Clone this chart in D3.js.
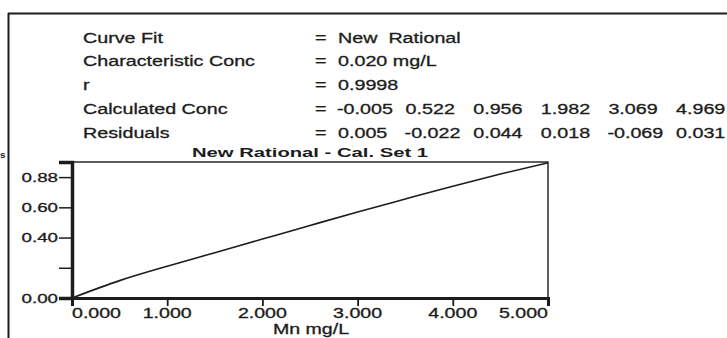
<!DOCTYPE html>
<html>
<head>
<meta charset="utf-8">
<script src="https://cdn.jsdelivr.net/npm/d3@7"></script>
<style>
  body { margin: 0; background: #fff; }
  svg { display: block; font-family: "Liberation Sans", Arial, sans-serif; }
</style>
</head>
<body>
<div id="chart"></div>
<script>
// header block
var headerLabels = ["Curve Fit", "Characteristic Conc", "r", "Calculated Conc", "Residuals"];
var headerText = ["New  Rational", "0.020 mg/L", "0.9998"];
var calcConc = [-0.005, 0.522, 0.956, 1.982, 3.069, 4.969];
var residuals = [0.005, -0.022, 0.044, 0.018, -0.069, 0.031];

// fitted curve
var curveConc = [0, 0.5, 1, 1.5, 2, 2.5, 3, 3.5, 4, 4.5, 5];
var curveAbs = [0, 0.115, 0.21, 0.30, 0.39, 0.48, 0.569, 0.655, 0.74, 0.82, 0.895];

var xTicks = [0, 1, 2, 3, 4, 5];
var yTicks = [0, 0.2, 0.4, 0.6, 0.8];
var yTickLabels = ["0.00", "", "0.40", "0.60", "0.88"];

var title = "New Rational - Cal. Set 1";
var xTitle = "Mn mg/L";

var width = 727, height = 338;
var ink = "#1c1c1c";

// plain hyphen for negatives, like the printout
var fmt = d3.formatLocale({decimal: ".", thousands: ",", grouping: [3], currency: ["", ""], minus: "-"}).format(".3f");

var svg = d3.select("#chart").append("svg")
    .attr("width", width)
    .attr("height", height);

// scanned text is stretched sideways, so every label gets a scaleX
function label(g, x, y, txt, size, sx, anchor, weight) {
  return g.append("text")
      .attr("transform", "translate(" + x + "," + y + ") scale(" + sx + ",1)")
      .attr("text-anchor", anchor || "start")
      .attr("font-size", size)
      .attr("font-weight", weight || "normal")
      .attr("fill", ink)
      .attr("stroke", ink)
      .attr("stroke-width", weight ? 0 : 0.3)
      .style("white-space", "pre")
      .text(txt);
}

// page frame
svg.append("line").attr("x1", 8).attr("x2", width).attr("y1", 13.5).attr("y2", 13.5)
    .attr("stroke", ink).attr("stroke-width", 2);
svg.append("line").attr("x1", 8.5).attr("x2", 8.5).attr("y1", 13).attr("y2", height)
    .attr("stroke", ink).attr("stroke-width", 2);

// header rows
var rowY = d3.scaleLinear().domain([0, 4]).range([42.5, 137.5]);
var colX = d3.scaleLinear().domain([0, 5]).range([338, 676]);
var head = svg.append("g");

headerLabels.forEach(function(t, i) {
  label(head, 83, rowY(i), t, 14.5, 1.36);
  label(head, 315, rowY(i), "=", 14.5, 1.36);
});
headerText.forEach(function(t, i) {
  label(head, 338, rowY(i), t, 14.5, 1.36);
});
[calcConc, residuals].forEach(function(arr, r) {
  arr.forEach(function(v, i) {
    label(head, colX(i) - (v < 0 ? 1 : 0), rowY(3 + r), fmt(v), 14.5, 1.36);
  });
});

// plot
var x = d3.scaleLinear().domain([0, 5]).range([72, 548]);
var y = d3.scaleLinear().domain([0, 0.9]).range([298, 162]);

label(svg, 310, 157, title, 13.5, 1.5, "middle", "bold");
label(svg, 0, 158, "s", 9, 1.1, "start", "bold");

svg.append("rect")
    .attr("x", x(0)).attr("y", y(0.9))
    .attr("width", x(5) - x(0)).attr("height", y(0) - y(0.9))
    .attr("fill", "none").attr("stroke", ink).attr("stroke-width", 1.4);

// y axis
var yAxis = svg.append("g")
    .attr("transform", "translate(" + x(0) + ",0)")
    .call(d3.axisLeft(y).tickValues(yTicks).tickSize(13).tickFormat(""));
yAxis.select(".domain").attr("stroke", ink).attr("stroke-width", 3.5);
yAxis.selectAll(".tick line").attr("stroke", ink).attr("stroke-width", 1.5);
yTicks.forEach(function(v, i) {
  label(svg, 58, y(v) + 4.5, yTickLabels[i], 12, 1.56, "end");
});

// x axis
var xAxis = svg.append("g")
    .attr("transform", "translate(0," + y(0) + ")")
    .call(d3.axisBottom(x).tickValues(xTicks).tickSize(8).tickFormat(""));
xAxis.select(".domain").attr("stroke", ink).attr("stroke-width", 3);
xAxis.selectAll(".tick line").attr("stroke", ink).attr("stroke-width", 1.8);
xTicks.forEach(function(v, i) {
  var anchor = i === 0 ? "start" : (i === xTicks.length - 1 ? "end" : "middle");
  label(svg, x(v), 318, fmt(v), 14, 1.4, anchor);
});
label(svg, 311, 334, xTitle, 14, 1.4, "middle");

// fitted curve
var line = d3.line()
    .x(function(d, i) { return x(curveConc[i]); })
    .y(function(d) { return y(d); })
    .curve(d3.curveMonotoneX);

svg.append("path")
    .datum(curveAbs)
    .attr("d", line)
    .attr("fill", "none")
    .attr("stroke", ink)
    .attr("stroke-width", 1.6);
</script>
</body>
</html>
